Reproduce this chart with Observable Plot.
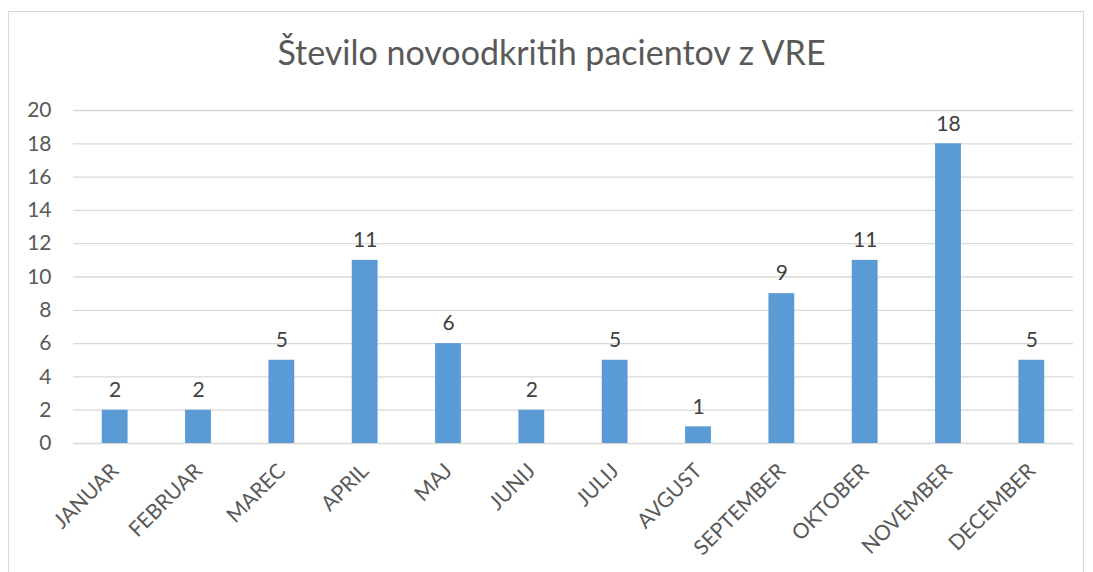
<!DOCTYPE html>
<html>
<head>
<meta charset="utf-8">
<script src="https://cdn.jsdelivr.net/npm/d3@7"></script>
<script src="https://cdn.jsdelivr.net/npm/@observablehq/plot@0.6"></script>
<style>
  html, body { margin: 0; padding: 0; background: #fff; overflow: hidden; }
  #frame { position: absolute; left: 8px; top: 11px; width: 1076px; height: 600px; border: 1px solid #d9d9d9; box-sizing: border-box; }
  #title { position: absolute; left: 5px; top: 32px; width: 1093px; text-align: center; font-family: Lato, "Open Sans", sans-serif; font-size: 34px; line-height: 1.2; color: #595959; }
  #chart { position: absolute; left: 0; top: 80px; }
</style>
</head>
<body>
<div id="frame"></div>
<div id="title">Število novoodkritih pacientov z VRE</div>
<div id="chart"></div>
<script>
const months = ["JANUAR","FEBRUAR","MAREC","APRIL","MAJ","JUNIJ","JULIJ","AVGUST","SEPTEMBER","OKTOBER","NOVEMBER","DECEMBER"];
const counts = [2,2,5,11,6,2,5,1,9,11,18,5];
const yTicks = [0,2,4,6,8,10,12,14,16,18,20];

const data = months.map((m, i) => ({month: m, value: counts[i]}));

const plot = Plot.plot({
  width: 1093,
  height: 492,
  marginTop: 30,
  marginLeft: 73,
  marginRight: 20,
  marginBottom: 129,
  style: {fontFamily: "Lato, 'Open Sans', sans-serif", color: "#595959", background: "transparent"},
  x: {domain: months, paddingInner: 0.69, paddingOuter: 0.345, round: false, label: null},
  y: {domain: [0, 20], label: null},
  marks: [
    Plot.gridY(yTicks, {stroke: "#d9d9d9", strokeOpacity: 1, strokeWidth: 1.3}),
    Plot.axisY({ticks: yTicks, tickSize: 0, tickPadding: 22, fontSize: 21, fill: "#595959", label: null}),
    Plot.axisX({tickSize: 0, tickPadding: 24, tickRotate: -45, fontSize: 21, fill: "#595959", label: null}),
    Plot.barY(data, {x: "month", y: "value", fill: "#5B9BD5"}),
    Plot.text(data, {x: "month", y: "value", text: d => String(d.value), dy: -20, fontSize: 21, fill: "#404040"})
  ]
});
document.getElementById("chart").appendChild(plot);
</script>
</body>
</html>
